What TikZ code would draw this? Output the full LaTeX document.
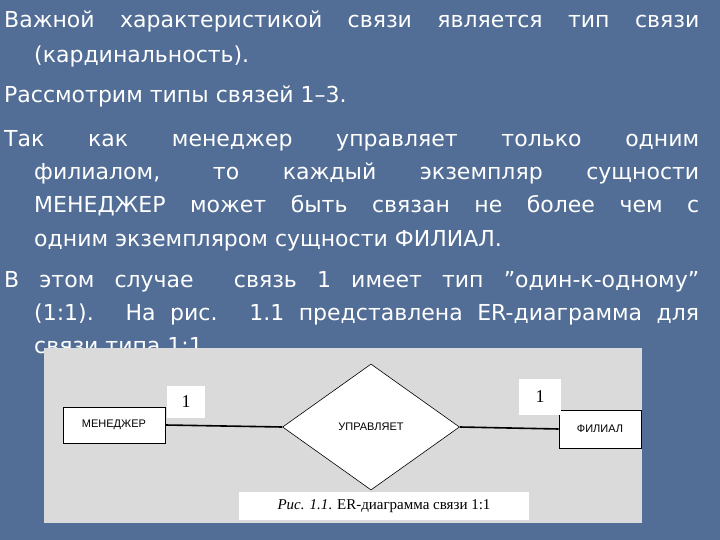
\documentclass[tikz,border=0pt]{standalone}
\usepackage{fontspec}
\setmainfont{DejaVu Sans}
\newfontfamily\diagfont{Liberation Sans}
\newfontfamily\capfont{Liberation Serif}
\usetikzlibrary{shapes.geometric}
\definecolor{bgblue}{RGB}{82,110,150}
\definecolor{pic}{RGB}{218,218,218}
\tikzset{
 ln/.style={anchor=base west,text=white,inner sep=0pt,font=\fontsize{22}{26}\selectfont},
 ent/.style={draw,line width=0.8pt,fill=white,minimum width=102pt,minimum height=36pt,font=\diagfont\fontsize{11}{12}\selectfont},
 rel/.style={draw,diamond,fill=white,line width=0.6pt,minimum width=177pt,minimum height=126pt,inner sep=0pt,font=\diagfont\fontsize{11}{12}\selectfont},
 conn/.style={line width=1.6pt},
 card/.style={fill=white,font=\capfont\fontsize{18}{18}\selectfont,inner sep=3pt}
}
\newcommand{\fl}[1]{\makebox[695pt][s]{#1}}
\newcommand{\cl}[1]{\makebox[665pt][s]{#1}}
\begin{document}
\begin{tikzpicture}[x=1pt,y=-1pt]
\useasboundingbox (0,0) rectangle (720,540);
\fill[bgblue] (0,0) rectangle (720,540);
\node[ln] (l1) at (4,28) {\fl{Важной характеристикой связи является тип связи}};
\node[ln] (l2) at (34,63) {(кардинальность).};
\node[ln] (l3) at (4,103) {Рассмотрим типы связей 1–3.};
\node[ln] (l4) at (4,147) {\fl{Так как менеджер управляет только одним}};
\node[ln] (l5) at (34,180) {\cl{филиалом, то каждый экземпляр сущности}};
\node[ln] (l6) at (34,213) {\cl{МЕНЕДЖЕР может быть связан не более чем с}};
\node[ln] (l7) at (34,247) {одним экземпляром сущности ФИЛИАЛ.};
\node[ln] (l8) at (4,287) {\fl{В этом случае\ \ связь 1 имеет тип "один-к-одному"}};
\node[ln] (l9) at (34,320) {\cl{(1:1). На рис. 1.1 представлена ER-диаграмма для}};
\node[ln] (l10) at (34,353) {связи типа 1:1.};
\fill[pic] (44,348) rectangle (642,523);
\node[ent] (m) at (114,425) {МЕНЕДЖЕР};
\node[ent,minimum width=82pt,minimum height=38pt] (f) at (600,429) {ФИЛИАЛ};
\node[rel] (r) at (371,427) {УПРАВЛЯЕТ};
\draw[conn] (m.east) -- (r.west);
\draw[conn] (r.east) -- (f.west);
\node[card,minimum width=38pt,minimum height=32pt] (k1) at (186,402) {1};
\node[card,minimum width=42pt,minimum height=36pt] (k2) at (540,397) {1};
\node[fill=white,minimum width=290pt,minimum height=28pt,font=\capfont\fontsize{15}{15}\selectfont] (capt) at (384,506) {\textit{Рис. 1.1}. ER-диаграмма связи 1:1};
\end{tikzpicture}
\end{document}
